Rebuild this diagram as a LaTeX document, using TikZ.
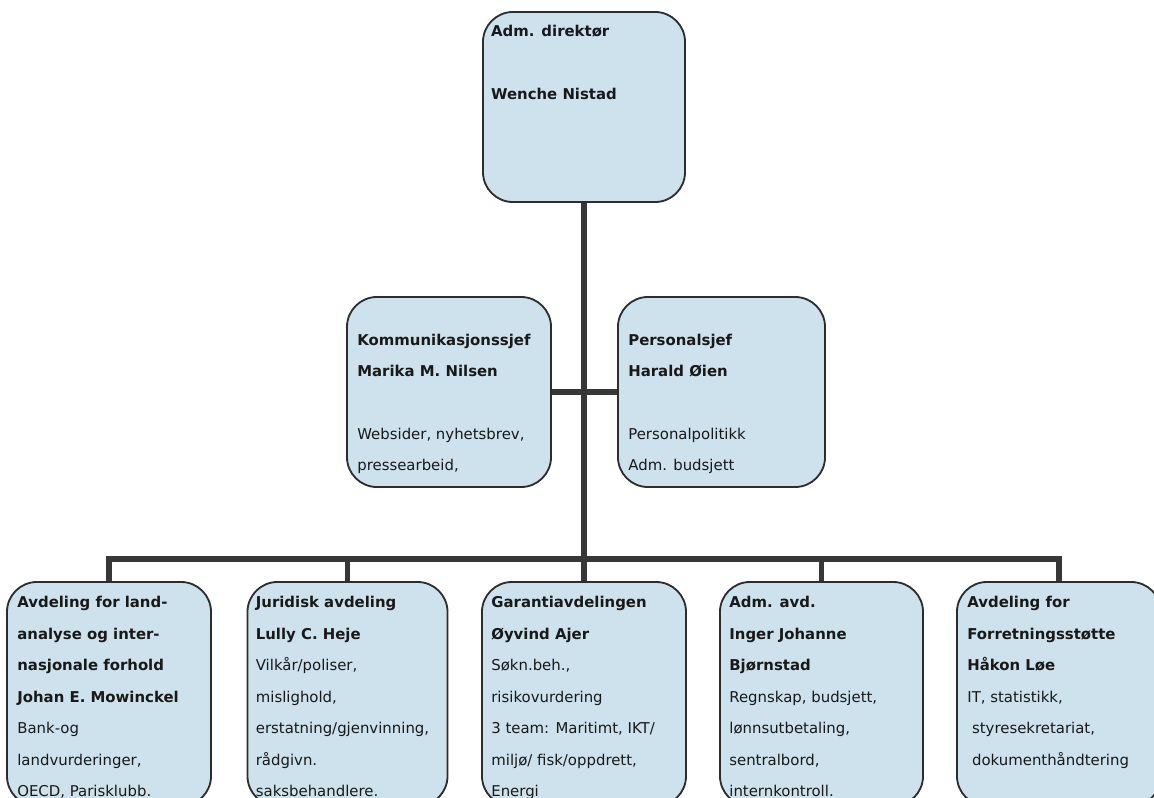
\documentclass[tikz,border=0pt]{standalone}
\usepackage{fontspec}
\setmainfont{DejaVu Sans}
\usetikzlibrary{positioning}
\definecolor{boxfill}{RGB}{205,226,236}
\definecolor{boxline}{RGB}{45,45,45}
\definecolor{wirecol}{RGB}{55,55,55}
\begin{document}
\begin{tikzpicture}[x=0.025cm,y=-0.025cm,
  unit/.style={draw=boxline,line width=1.3pt,fill=boxfill,rounded corners=0.75cm,inner sep=0pt,minimum width=5.1cm},
  txt/.style={anchor=north west,inner sep=0pt,align=left,text=black!90,font=\fontsize{10.6}{22.2}\selectfont},
  wire/.style={draw=wirecol,line width=3.6pt}]
\useasboundingbox (0,0) rectangle (1154,797);
\clip (0,0) rectangle (1154,797);
\fill[white] (0,0) rectangle (1154,797);
\node[unit,minimum width=5.05cm,minimum height=4.75cm] (dir) at (584,107) {};
\node[unit,minimum height=4.75cm] (kom) at (449,392) {};
\node[unit,minimum width=5.175cm,minimum height=4.75cm] (pers) at (721.5,392) {};
\node[unit,minimum height=5.6cm] (a1) at (109,694) {};
\node[unit,minimum width=5cm,minimum height=5.6cm] (a2) at (347.5,694) {};
\node[unit,minimum height=5.6cm] (a3) at (584,694) {};
\node[unit,minimum width=5.075cm,minimum height=5.6cm] (a4) at (821.5,694) {};
\node[unit,minimum height=5.6cm] (a5) at (1059,694) {};
\coordinate (bus) at (584,559);
\draw[wire] (dir.south) -- (a3.north);
\draw[wire] (kom.east) -- (pers.west);
\foreach \n in {a1,a2,a4,a5}
  \draw[wire] (\n.north) |- (bus);
\node[txt] (dir-t) at ([shift={(0.22cm,-0.35cm)}]dir.north west)
  {\textbf{Adm. direktør}\\~\\\textbf{Wenche Nistad}};
\node[txt] (kom-t) at ([shift={(0.275cm,-0.95cm)}]kom.north west)
  {\textbf{Kommunikasjonssjef}\\\textbf{Marika M. Nilsen}\\~\\Websider, nyhetsbrev,\\pressearbeid,};
\node[txt] (pers-t) at ([shift={(0.275cm,-0.95cm)}]pers.north west)
  {\textbf{Personalsjef}\\\textbf{Harald Øien}\\~\\Personalpolitikk\\Adm. budsjett};
\begin{scope}[txt/.append style={font=\fontsize{10.6}{22.4}\selectfont}]
\node[txt] (a1-t) at ([shift={(0.275cm,-0.375cm)}]a1.north west)
  {\textbf{Avdeling for land-}\\\textbf{analyse og inter-}\\\textbf{nasjonale forhold}\\\textbf{Johan E. Mowinckel}\\Bank-og\\landvurderinger,\\OECD, Parisklubb.};
\node[txt] (a2-t) at ([shift={(0.225cm,-0.375cm)}]a2.north west)
  {\textbf{Juridisk avdeling}\\\textbf{Lully C. Heje}\\Vilkår/poliser,\\mislighold,\\erstatning/gjenvinning,\\rådgivn.\\saksbehandlere.};
\node[txt] (a3-t) at ([shift={(0.25cm,-0.375cm)}]a3.north west)
  {\textbf{Garantiavdelingen}\\\textbf{Øyvind Ajer}\\Søkn.beh.,\\risikovurdering\\3 team: Maritimt, IKT/\\miljø/ fisk/oppdrett,\\Energi};
\node[txt] (a4-t) at ([shift={(0.25cm,-0.375cm)}]a4.north west)
  {\textbf{Adm. avd.}\\\textbf{Inger Johanne}\\\textbf{Bjørnstad}\\Regnskap, budsjett,\\lønnsutbetaling,\\sentralbord,\\internkontroll.};
\node[txt] (a5-t) at ([shift={(0.275cm,-0.375cm)}]a5.north west)
  {\textbf{Avdeling for}\\\textbf{Forretningsstøtte}\\\textbf{Håkon Løe}\\IT, statistikk,\\\ styresekretariat,\\\ dokumenthåndtering};
\end{scope}
\end{tikzpicture}
\end{document}
